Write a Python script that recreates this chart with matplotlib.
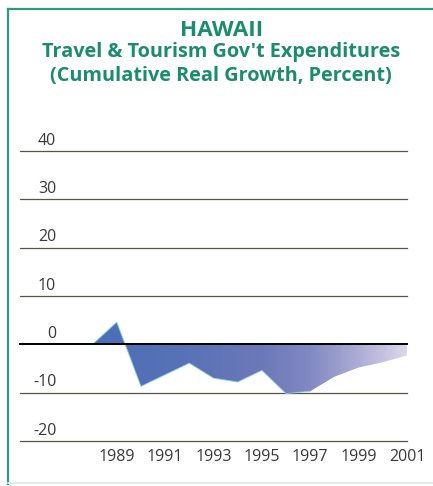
import numpy as np
import matplotlib
matplotlib.use("Agg")
import matplotlib.pyplot as plt
from matplotlib.colors import LinearSegmentedColormap
from matplotlib.patches import Polygon
from matplotlib.lines import Line2D

# Cumulative real growth of travel & tourism government expenditures (%)
years = [1988, 1989, 1990, 1991, 1992, 1993, 1994, 1995, 1996, 1997, 1998, 1999, 2000, 2001]
growth = [0.0, 4.6, -8.7, -6.3, -3.9, -7.0, -7.8, -5.4, -10.2, -9.7, -6.7, -4.8, -3.7, -2.3]

y_ticks = [40, 30, 20, 10, 0, -10, -20]
x_ticks = [1989, 1991, 1993, 1995, 1997, 1999, 2001]

title = "HAWAII"
subtitle = "Travel & Tourism Gov't Expenditures\n(Cumulative Real Growth, Percent)"

teal = "#1b8c6f"
W, H = 433, 486
fig = plt.figure(figsize=(W / 100, H / 100), dpi=100)
fig.patch.set_facecolor("white")

# frame around the panel
fig.add_artist(Line2D([8 / W, 1.0], [1 - 9 / H, 1 - 9 / H], color="#2a9a80", lw=1.6))
fig.add_artist(Line2D([8 / W, 8 / W], [1 - 9 / H, 1 - 484 / H], color="#2a9a80", lw=1.6))
fig.add_artist(Line2D([8 / W, 1.0], [1 - 483 / H, 1 - 483 / H], color="#d5eee6", lw=1.2))

fig.text(222 / W, 1 - 30 / H, title, ha="center", va="center", fontsize=16.2,
         fontweight="bold", color=teal, family="Open Sans")
fig.text(221 / W, 1 - 64 / H, subtitle, ha="center", va="center", fontsize=14.3,
         fontweight="bold", color=teal, family="Open Sans", linespacing=1.3)

x0, x1 = 1985, 2001
y0, y1 = -20, 40
ax = fig.add_axes([20 / W, (H - 441) / H, (407 - 20) / W, (441 - 151) / H])
ax.set_xlim(x0, x1)
ax.set_ylim(y0, y1)
ax.axis("off")

for v in y_ticks:
    ax.axhline(v, color="black" if v == 0 else "#55554c",
               lw=1.4 if v == 0 else 0.9, zorder=3 if v == 0 else 1, clip_on=False)
    ax.text(1986.5, v + 0.5, str(v), ha="right", va="bottom", fontsize=11.5,
            color="#383838", family="Open Sans", clip_on=False)

for yr in x_ticks:
    ax.text(yr, -23.3, str(yr), ha="center", va="center", fontsize=11.5,
            color="#383838", family="Open Sans", clip_on=False)

# gradient-filled area between the series and zero
verts = [(years[0], 0)] + list(zip(years, growth)) + [(years[-1], 0)]
poly = Polygon(verts, closed=True, facecolor="none", edgecolor="none")
ax.add_patch(poly)
cmap = LinearSegmentedColormap.from_list(
    "fade", [(0.0, "#4a6fb6"), (0.31, "#5a72b6"), (0.54, "#6c79b9"),
             (0.69, "#8289c2"), (0.85, "#aeaed5"), (1.0, "#dcd8ec")])
grad = np.linspace(0, 1, 256).reshape(1, -1)
img = ax.imshow(grad, cmap=cmap, aspect="auto", extent=[years[0], years[-1], -12, 6],
                zorder=2, interpolation="bilinear")
img.set_clip_path(poly)
ax.plot(years[:10], growth[:10], color="#8fd6e4", lw=0.8, alpha=0.7, zorder=2.5)
ax.set_xlim(x0, x1)
ax.set_ylim(y0, y1)

fig.savefig("out.png", dpi=100, facecolor="white")
